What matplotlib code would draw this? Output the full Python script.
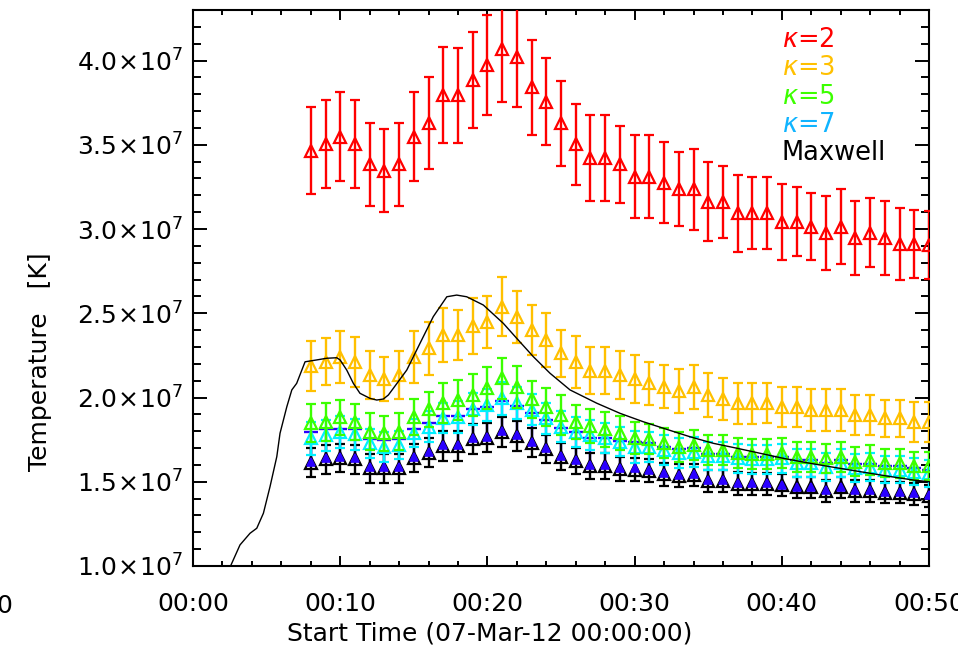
import matplotlib
matplotlib.use('Agg')
import matplotlib.pyplot as plt
import numpy as np
from matplotlib.ticker import MultipleLocator, FixedLocator, FixedFormatter

# --- data (temperatures in units of 1e7 K, time in minutes after 00:00) ---
minutes = list(range(8, 51))

red = [3.465, 3.504, 3.548, 3.504, 3.384, 3.346, 3.384, 3.548, 3.627, 3.795,
       3.795, 3.884, 3.973, 4.066, 4.023, 3.841, 3.756, 3.627, 3.504, 3.420,
       3.420, 3.384, 3.310, 3.310, 3.275, 3.236, 3.236, 3.162, 3.162, 3.093,
       3.093, 3.093, 3.043, 3.043, 3.014, 2.978, 3.014, 2.945, 2.978, 2.945,
       2.911, 2.911, 2.905]
red_err = [0.257, 0.262, 0.263, 0.262, 0.247, 0.247, 0.247, 0.263, 0.273, 0.283,
           0.282, 0.286, 0.297, 0.311, 0.297, 0.284, 0.260, 0.250, 0.240, 0.255,
           0.255, 0.230, 0.247, 0.247, 0.240, 0.220, 0.240, 0.233, 0.213, 0.230,
           0.213, 0.213, 0.227, 0.206, 0.200, 0.220, 0.223, 0.220, 0.205, 0.220,
           0.216, 0.200, 0.200]

orange = [2.189, 2.212, 2.242, 2.212, 2.134, 2.108, 2.134, 2.242, 2.292, 2.371,
          2.371, 2.424, 2.450, 2.540, 2.480, 2.401, 2.341, 2.262, 2.212, 2.159,
          2.159, 2.134, 2.108, 2.084, 2.064, 2.039, 2.064, 2.015, 1.989, 1.966,
          1.966, 1.966, 1.945, 1.945, 1.926, 1.926, 1.926, 1.896, 1.896, 1.877,
          1.877, 1.856, 1.856]
orange_err = [0.149, 0.139, 0.153, 0.150, 0.145, 0.131, 0.145, 0.153, 0.156, 0.160,
              0.148, 0.166, 0.155, 0.173, 0.155, 0.150, 0.160, 0.141, 0.153, 0.139,
              0.139, 0.145, 0.142, 0.129, 0.129, 0.131, 0.131, 0.129, 0.125, 0.123,
              0.123, 0.120, 0.120, 0.120, 0.122, 0.122, 0.122, 0.116, 0.116, 0.109,
              0.109, 0.119, 0.119]

green = [1.847, 1.856, 1.882, 1.856, 1.797, 1.788, 1.797, 1.882, 1.930, 1.966,
         1.985, 2.015, 2.055, 2.114, 2.064, 1.989, 1.945, 1.896, 1.856, 1.831,
         1.811, 1.788, 1.758, 1.752, 1.728, 1.708, 1.718, 1.688, 1.688, 1.672,
         1.665, 1.665, 1.669, 1.649, 1.649, 1.639, 1.649, 1.619, 1.629, 1.609,
         1.609, 1.593, 1.593]
green_err = [0.112, 0.112, 0.102, 0.107, 0.109, 0.104, 0.109, 0.107, 0.104, 0.120,
             0.120, 0.122, 0.125, 0.120, 0.125, 0.111, 0.114, 0.117, 0.101, 0.103,
             0.103, 0.100, 0.094, 0.089, 0.090, 0.088, 0.090, 0.090, 0.090, 0.090,
             0.088, 0.088, 0.088, 0.089, 0.089, 0.085, 0.089, 0.085, 0.088, 0.083,
             0.085, 0.081, 0.081]

cyan = [1.758, 1.777, 1.797, 1.783, 1.728, 1.708, 1.718, 1.788, 1.827, 1.877,
        1.886, 1.930, 1.955, 1.997, 1.966, 1.926, 1.877, 1.827, 1.797, 1.777,
        1.758, 1.738, 1.708, 1.708, 1.688, 1.669, 1.678, 1.653, 1.653, 1.639,
        1.633, 1.633, 1.639, 1.609, 1.609, 1.589, 1.609, 1.580, 1.589, 1.570,
        1.570, 1.560, 1.550]
cyan_err = [0.097, 0.092, 0.095, 0.092, 0.085, 0.090, 0.085, 0.083, 0.090, 0.090,
            0.095, 0.095, 0.095, 0.098, 0.095, 0.092, 0.092, 0.090, 0.090, 0.088,
            0.088, 0.088, 0.094, 0.090, 0.088, 0.088, 0.088, 0.085, 0.085, 0.085,
            0.085, 0.085, 0.085, 0.083, 0.083, 0.083, 0.083, 0.082, 0.082, 0.080,
            0.080, 0.080, 0.080]

blue = [1.619, 1.639, 1.645, 1.639, 1.586, 1.586, 1.586, 1.645, 1.678, 1.718,
        1.718, 1.758, 1.767, 1.800, 1.777, 1.738, 1.698, 1.653, 1.629, 1.599,
        1.599, 1.580, 1.580, 1.570, 1.550, 1.540, 1.546, 1.510, 1.510, 1.494,
        1.491, 1.491, 1.481, 1.471, 1.471, 1.451, 1.471, 1.451, 1.451, 1.441,
        1.441, 1.431, 1.421]
blue_up = [0.178, 0.175, 0.170, 0.175, 0.165, 0.160, 0.165, 0.170, 0.170, 0.175,
           0.175, 0.175, 0.175, 0.180, 0.175, 0.170, 0.170, 0.165, 0.165, 0.160,
           0.160, 0.160, 0.158, 0.158, 0.155, 0.155, 0.155, 0.155, 0.155, 0.155,
           0.155, 0.155, 0.168, 0.160, 0.160, 0.160, 0.160, 0.155, 0.155, 0.155,
           0.155, 0.150, 0.150]

black = [1.614, 1.633, 1.640, 1.633, 1.580, 1.580, 1.580, 1.640, 1.672, 1.712,
         1.712, 1.752, 1.762, 1.795, 1.772, 1.732, 1.692, 1.648, 1.624, 1.594,
         1.594, 1.575, 1.572, 1.565, 1.545, 1.535, 1.540, 1.505, 1.505, 1.489,
         1.486, 1.486, 1.480, 1.466, 1.466, 1.446, 1.466, 1.446, 1.446, 1.436,
         1.436, 1.426, 1.416]
black_err = [0.085, 0.085, 0.085, 0.085, 0.085, 0.085, 0.085, 0.085, 0.085, 0.088,
             0.088, 0.088, 0.088, 0.090, 0.088, 0.085, 0.083, 0.080, 0.078, 0.075,
             0.075, 0.072, 0.069, 0.069, 0.068, 0.068, 0.068, 0.066, 0.066, 0.066,
             0.065, 0.065, 0.064, 0.064, 0.064, 0.064, 0.064, 0.064, 0.064, 0.064,
             0.064, 0.064, 0.064]

# Maxwellian temperature curve
maxwell_t = [2.2, 2.56, 3.19, 3.87, 4.33, 4.78, 5.23, 5.69, 5.91, 6.37, 6.71, 7.04,
             7.61, 8.40, 9.08, 9.76, 9.99, 10.44, 10.89, 11.34, 12.02, 12.48, 12.93,
             13.27, 13.61, 14.52, 15.42, 16.32, 17.24, 17.91, 18.59, 19.72, 21.08,
             21.99, 23.12, 24.25, 25.61, 27.43, 29.01, 30.59, 32.18, 33.76, 35.35,
             36.94, 38.52, 40.10, 41.69, 43.50, 45.31, 47.13, 48.93, 50.0]
maxwell_T = [0.93, 1.002, 1.125, 1.194, 1.224, 1.313, 1.471, 1.649, 1.788, 1.945,
             2.045, 2.084, 2.212, 2.223, 2.233, 2.236, 2.223, 2.163, 2.084, 2.025,
             1.995, 1.985, 1.991, 2.015, 2.055, 2.163, 2.322, 2.480, 2.598, 2.608,
             2.598, 2.549, 2.440, 2.351, 2.242, 2.144, 2.045, 1.966, 1.906, 1.856,
             1.811, 1.767, 1.728, 1.699, 1.669, 1.639, 1.613, 1.586, 1.560, 1.534,
             1.510, 1.500]

legend_labels = [r'$\kappa$=2', r'$\kappa$=3', r'$\kappa$=5', r'$\kappa$=7', 'Maxwell']
legend_colors = ['#ff0000', '#ffc000', '#3cff00', '#10b4ff', '#000000']
tick_minutes = [0, 10, 20, 30, 40, 50]
tick_labels = ['00:00', '00:10', '00:20', '00:30', '00:40', '00:50']
ytick_vals = [1.0, 1.5, 2.0, 2.5, 3.0, 3.5, 4.0]

plt.rcParams['font.family'] = 'DejaVu Sans'
plt.rcParams['mathtext.fontset'] = 'dejavusans'

fig = plt.figure(figsize=(9.58, 6.51), dpi=100)
ax = fig.add_axes([0.2015, 0.1306, 0.7683, 0.854])

t = np.array(minutes, dtype=float)
sc = 1e7
ebkw = dict(fmt='^', ms=8, mfc='none', mew=1.6, elinewidth=1.7,
            capsize=3.7, capthick=1.7)

# blue series: only upper bars, drawn underneath the others
b = np.array(blue) * sc
bu = b + np.array(blue_up) * sc
ax.vlines(t, b, bu, color='#2a00ff', lw=1.7, zorder=1)
ax.plot(t, bu, ls='none', marker='_', ms=10, mew=1.7, color='#2a00ff', zorder=1)

ax.errorbar(t, np.array(black) * sc, yerr=np.array(black_err) * sc,
            color='black', zorder=2, **ebkw)
ax.errorbar(t, np.array(cyan) * sc, yerr=np.array(cyan_err) * sc,
            color='#00f0ff', zorder=3, **ebkw)
ax.errorbar(t, np.array(green) * sc, yerr=np.array(green_err) * sc,
            color='#3cff00', zorder=4, **ebkw)
ax.errorbar(t, np.array(orange) * sc, yerr=np.array(orange_err) * sc,
            color='#ffc000', zorder=5, **ebkw)
ax.errorbar(t, np.array(red) * sc, yerr=np.array(red_err) * sc,
            color='#ff0000', zorder=6, **ebkw)
ax.plot(t, b, ls='none', marker='^', ms=6, mfc='#2a00ff', mec='#2a00ff',
        mew=1.2, zorder=7)

ax.plot(np.array(maxwell_t), np.array(maxwell_T) * sc, color='black', lw=1.0, zorder=8)

ax.set_xlim(0, 50)
ax.set_ylim(1.0e7, 4.3e7)

ax.xaxis.set_major_locator(FixedLocator(tick_minutes))
ax.xaxis.set_major_formatter(FixedFormatter(tick_labels))
ax.xaxis.set_minor_locator(MultipleLocator(2))
ax.yaxis.set_major_locator(FixedLocator([v * sc for v in ytick_vals]))
ax.yaxis.set_major_formatter(FixedFormatter(
    [r'$%.1f\!\times\!10^{7}$' % v for v in ytick_vals]))
ax.yaxis.set_minor_locator(MultipleLocator(0.1e7))

for s in ax.spines.values():
    s.set_linewidth(1.5)
ax.tick_params(axis='both', which='both', direction='in', top=True, right=True,
               width=1.4, labelsize=18)
ax.tick_params(axis='x', which='major', length=7.5, pad=19)
ax.tick_params(axis='x', which='minor', length=3.8)
ax.tick_params(axis='y', which='major', length=10, pad=7)
ax.tick_params(axis='y', which='minor', length=5.5)

# stray IDL tick label, cut at the left edge as in the original
fig.text(13 / 958, 1 - 606 / 651, '23:50', ha='right', va='center', fontsize=18)

fig.text(490 / 958, 1 - 634 / 651, 'Start Time (07-Mar-12 00:00:00)',
         ha='center', va='center', fontsize=18)
fig.text(40 / 958, 1 - 362 / 651, 'Temperature   [K]', rotation=90,
         ha='center', va='center', fontsize=18)

for i, (lab, col) in enumerate(zip(legend_labels, legend_colors)):
    ax.text(782 / 958, 1 - (40 + 28.3 * i) / 651, lab, color=col, fontsize=18.5,
            ha='left', va='center', transform=fig.transFigure)

fig.savefig('out.png', dpi=100)
